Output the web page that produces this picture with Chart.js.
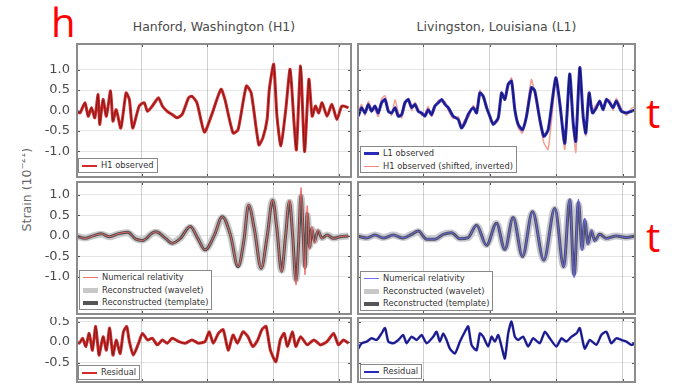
<!DOCTYPE html>
<html lang="en">
<head>
<meta charset="UTF-8">
<title>GW150914 strain</title>
<script src="https://cdn.jsdelivr.net/npm/chart.js"></script>
<style>
  body { margin: 0; background: #fff; width: 679px; height: 385px; position: relative; overflow: hidden; font-family: "DejaVu Sans", sans-serif; }
  canvas { position: absolute; }
  .title { position: absolute; top: 19px; font-size: 12.5px; color: #4a4a4a; text-align: center; }
  .mark { position: absolute; color: #f00; font-family: "Open Sans", sans-serif; font-size: 40px; line-height: 1; }
  .legend { position: absolute; background: #fff; border: 1px solid #888; font-size: 8.3px; color: #333; padding: 0 3px; }
  .legend div { height: 12.5px; line-height: 12.5px; white-space: nowrap; }
  .legend span { display: inline-block; width: 15px; vertical-align: middle; margin-right: 4px; }
  #ylab { position: absolute; left: 22px; top: 130px; width: 20px; height: 120px; overflow: hidden; }
  #ylab div { position: absolute; left: -51px; top: 52px; width: 110px; text-align: center; transform: rotate(-90deg); font-size: 12.5px; color: #666; white-space: nowrap; }
</style>
</head>
<body>
<div class="mark" style="left:51px; top:2px;">h</div>
<div class="mark" style="left:646px; top:93px;">t</div>
<div class="mark" style="left:646px; top:217px;">t</div>
<div class="title" style="left:76px; width:276px;">Hanford, Washington (H1)</div>
<div class="title" style="left:357px; width:279px;">Livingston, Louisiana (L1)</div>
<div id="ylab"><div>Strain (10<sup style="font-size:8px">&minus;21</sup>)</div></div>

<canvas id="cH1" width="352" height="135" style="left:0; top:43px;"></canvas>
<canvas id="cL1" width="279" height="135" style="left:357px; top:43px;"></canvas>
<canvas id="cH1rec" width="352" height="134" style="left:0; top:181px;"></canvas>
<canvas id="cL1rec" width="279" height="134" style="left:357px; top:181px;"></canvas>
<canvas id="cH1res" width="352" height="66" style="left:0; top:317px;"></canvas>
<canvas id="cL1res" width="279" height="66" style="left:357px; top:317px;"></canvas>

<div class="legend" style="left:78px; top:158px;">
  <div><span style="border-top:2px solid #d42a2a"></span>H1 observed</div>
</div>
<div class="legend" style="left:360px; top:146px;">
  <div><span style="border-top:3px solid #2a2ab8"></span>L1 observed</div>
  <div><span style="border-top:1px solid #f08a80"></span>H1 observed (shifted, inverted)</div>
</div>
<div class="legend" style="left:79px; top:270px;">
  <div><span style="border-top:1px solid #f07070"></span>Numerical relativity</div>
  <div><span style="border-top:5px solid #c8c8c8"></span>Reconstructed (wavelet)</div>
  <div><span style="border-top:4px solid #555"></span>Reconstructed (template)</div>
</div>
<div class="legend" style="left:360px; top:271px;">
  <div><span style="border-top:1px solid #7070f0"></span>Numerical relativity</div>
  <div><span style="border-top:5px solid #c8c8c8"></span>Reconstructed (wavelet)</div>
  <div><span style="border-top:4px solid #555"></span>Reconstructed (template)</div>
</div>
<div class="legend" style="left:78px; top:365px;">
  <div><span style="border-top:2px solid #d42a2a"></span>Residual</div>
</div>
<div class="legend" style="left:360px; top:364px;">
  <div><span style="border-top:2px solid #2a2ab8"></span>Residual</div>
</div>

<script>
// time axis (s) and tick positions
const xTicks = [0.30, 0.35, 0.40, 0.45];
const yTicksMain = [-1.0, -0.5, 0.0, 0.5, 1.0];
const yTicksRes = [-0.5, 0.0, 0.5];

// H1 observed (top left)
const tH1Obs = [0.2500, 0.2530, 0.2568, 0.2593, 0.2618, 0.2643, 0.2668, 0.2680, 0.2706, 0.2731,
  0.2763, 0.2781, 0.2806, 0.2841, 0.2881, 0.2906, 0.2931, 0.2981, 0.3019, 0.3044,
  0.3081, 0.3127, 0.3157, 0.3194, 0.3232, 0.3269, 0.3307, 0.3357, 0.3382, 0.3420,
  0.3477, 0.3533, 0.3603, 0.3633, 0.3695, 0.3733, 0.3796, 0.3833, 0.3891, 0.3922,
  0.3954, 0.3971, 0.4004, 0.4029, 0.4059, 0.4096, 0.4129, 0.4159, 0.4177, 0.4209,
  0.4239, 0.4272, 0.4297, 0.4322, 0.4347, 0.4372, 0.4410, 0.4447, 0.4485, 0.4523, 0.4573];
const h1Obs = [0.00, -0.06, 0.19, -0.14, 0.07, -0.18, 0.39, -0.34, 0.27, -0.14,
  0.48, -0.26, 0.02, -0.43, 0.43, 0.27, -0.43, 0.11, 0.19, -0.02,
  0.11, 0.31, 0.11, -0.02, -0.10, -0.18, -0.10, 0.31, 0.35, 0.19,
  -0.53, -0.10, 0.52, 0.27, -0.55, -0.47, 0.60, 0.43, -0.84, -0.67,
  -0.22, 0.52, 1.13, -0.14, -0.86, 0.02, 1.01, -0.30, -0.96, 1.09,
  -1.00, 0.76, -0.14, 0.11, -0.06, 0.19, -0.14, 0.15, -0.22, 0.11, 0.07];

// L1 observed and H1 shifted/inverted (top right)
const tL1Obs = [0.2510, 0.2535, 0.2560, 0.2585, 0.2610, 0.2635, 0.2660, 0.2685, 0.2711, 0.2736,
  0.2761, 0.2786, 0.2811, 0.2836, 0.2861, 0.2886, 0.2911, 0.2936, 0.2961, 0.2986,
  0.3011, 0.3036, 0.3061, 0.3086, 0.3112, 0.3137, 0.3162, 0.3187, 0.3224, 0.3262,
  0.3287, 0.3312, 0.3337, 0.3375, 0.3400, 0.3425, 0.3450, 0.3475, 0.3500, 0.3525,
  0.3563, 0.3588, 0.3613, 0.3638, 0.3663, 0.3688, 0.3713, 0.3746, 0.3776, 0.3813,
  0.3838, 0.3876, 0.3906, 0.3939, 0.3996, 0.4026, 0.4064, 0.4101, 0.4127, 0.4147,
  0.4177, 0.4202, 0.4222, 0.4247, 0.4272, 0.4302, 0.4327, 0.4352, 0.4377, 0.4402,
  0.4427, 0.4452, 0.4490, 0.4528, 0.4565, 0.4598];
const l1Obs = [-0.14, 0.07, -0.06, 0.15, -0.02, 0.11, -0.06, 0.19, 0.27, -0.02,
  -0.06, 0.07, -0.14, -0.10, 0.19, 0.27, 0.07, 0.15, -0.02, -0.06,
  -0.14, 0.02, -0.10, 0.11, 0.19, 0.27, 0.15, 0.07, -0.14, -0.22,
  -0.43, -0.30, -0.10, 0.07, -0.06, 0.43, 0.35, 0.07, -0.14, -0.34,
  -0.18, 0.43, 0.27, 0.64, 0.72, 0.02, -0.34, -0.47, -0.14, 0.56,
  0.48, -0.22, -0.63, -0.47, 0.80, 0.19, -0.80, 0.89, -0.30, -0.75,
  1.05, -0.14, -0.55, 0.43, -0.06, 0.07, 0.23, 0.02, 0.27, 0.19,
  0.07, 0.23, -0.02, -0.06, -0.02, 0.02];
const h1Shifted = [-0.05, 0.15, -0.12, 0.22, 0.05, 0.02, -0.15, 0.28, 0.36, 0.05,
  -0.12, 0.26, -0.05, -0.18, 0.12, 0.30, 0.00, 0.20, 0.05, -0.12,
  -0.08, 0.10, -0.15, 0.05, 0.25, 0.20, 0.22, 0.00, -0.20, -0.15,
  -0.38, -0.22, -0.18, 0.12, 0.02, 0.50, 0.28, 0.15, -0.20, -0.28,
  -0.25, 0.38, 0.32, 0.58, 0.80, 0.10, -0.42, -0.55, -0.05, 0.76,
  0.40, -0.30, -0.78, -0.95, 0.70, 0.28, -0.95, 0.80, -0.40, -1.02,
  0.95, -0.05, -0.62, 0.35, 0.02, 0.15, 0.18, 0.10, 0.20, 0.26,
  0.00, 0.30, 0.05, -0.12, 0.05, 0.10];

// reconstructed waveforms (middle left)
const tH1Rec = [0.2500, 0.2568, 0.2630, 0.2693, 0.2756, 0.2818, 0.2893, 0.2956, 0.3006, 0.3081,
  0.3107, 0.3182, 0.3232, 0.3294, 0.3370, 0.3427, 0.3482, 0.3553, 0.3613, 0.3675,
  0.3733, 0.3778, 0.3813, 0.3858, 0.3909, 0.3954, 0.3996, 0.4029, 0.4064, 0.4094,
  0.4124, 0.4149, 0.4174, 0.4194, 0.4212, 0.4229, 0.4242, 0.4259, 0.4277, 0.4294,
  0.4315, 0.4340, 0.4372, 0.4410, 0.4460, 0.4510, 0.4573];
const h1NR = [0.00, -0.06, 0.00, 0.05, -0.02, 0.05, 0.09, -0.08, -0.11, 0.07,
  0.10, -0.06, -0.18, -0.06, 0.23, -0.06, -0.34, 0.02, 0.47, 0.02,
  -0.75, -0.10, 0.76, 0.15, -0.79, -0.02, 0.88, 0.15, -0.87, -0.02,
  0.88, -0.02, -1.20, -0.18, 1.18, -0.02, -0.95, 0.74, -0.34, 0.23,
  -0.18, 0.15, -0.06, 0.02, -0.06, -0.02, 0.00];
const h1Wavelet = [0.00, -0.05, 0.00, 0.04, -0.02, 0.04, 0.08, -0.07, -0.10, 0.06,
  0.09, -0.05, -0.16, -0.05, 0.21, -0.05, -0.32, 0.02, 0.45, 0.02,
  -0.72, -0.10, 0.74, 0.14, -0.78, -0.02, 0.86, 0.14, -0.84, -0.02,
  0.82, -0.02, -1.05, -0.15, 0.95, -0.02, -0.70, 0.50, -0.25, 0.16,
  -0.12, 0.10, -0.04, 0.02, -0.05, -0.02, 0.00];
const h1Template = [0.00, -0.06, 0.00, 0.05, -0.02, 0.05, 0.09, -0.08, -0.11, 0.07,
  0.10, -0.06, -0.18, -0.06, 0.23, -0.06, -0.34, 0.02, 0.47, 0.02,
  -0.75, -0.10, 0.75, 0.15, -0.79, -0.02, 0.87, 0.15, -0.86, -0.02,
  0.84, -0.02, -1.10, -0.16, 1.00, -0.02, -0.78, 0.55, -0.28, 0.18,
  -0.14, 0.12, -0.05, 0.02, -0.06, -0.02, 0.00];

// reconstructed waveforms (middle right)
const tL1Rec = [0.2500, 0.2573, 0.2635, 0.2698, 0.2773, 0.2848, 0.2911, 0.2961, 0.3024, 0.3086,
  0.3149, 0.3212, 0.3275, 0.3337, 0.3400, 0.3475, 0.3550, 0.3613, 0.3675, 0.3746,
  0.3821, 0.3906, 0.3989, 0.4056, 0.4101, 0.4134, 0.4167, 0.4194, 0.4214, 0.4239,
  0.4264, 0.4289, 0.4327, 0.4377, 0.4452, 0.4528, 0.4598];
const l1NR = [0.00, -0.05, 0.02, -0.05, 0.02, -0.05, 0.04, 0.12, -0.08, -0.08,
  0.04, 0.08, -0.07, -0.04, 0.26, -0.23, 0.31, -0.33, 0.45, -0.50,
  0.59, -0.59, 0.67, -0.75, 0.90, -1.02, 0.90, -0.36, 0.44, -0.22,
  0.14, -0.13, 0.04, -0.07, 0.00, -0.04, 0.00];
const l1Wavelet = [0.00, -0.04, 0.02, -0.04, 0.02, -0.04, 0.04, 0.10, -0.07, -0.07,
  0.04, 0.07, -0.06, -0.04, 0.24, -0.21, 0.30, -0.31, 0.43, -0.48,
  0.57, -0.58, 0.65, -0.73, 0.84, -0.88, 0.76, -0.28, 0.32, -0.16,
  0.10, -0.09, 0.03, -0.05, 0.00, -0.03, 0.00];
const l1Template = [0.00, -0.05, 0.02, -0.05, 0.02, -0.05, 0.04, 0.12, -0.08, -0.08,
  0.04, 0.08, -0.07, -0.04, 0.26, -0.23, 0.31, -0.33, 0.45, -0.50,
  0.59, -0.59, 0.67, -0.75, 0.88, -0.96, 0.82, -0.32, 0.38, -0.19,
  0.12, -0.11, 0.04, -0.06, 0.00, -0.04, 0.00];

// residuals (bottom)
const tH1Res = [0.2500, 0.2525, 0.2550, 0.2575, 0.2600, 0.2625, 0.2650, 0.2675, 0.2706, 0.2731,
  0.2756, 0.2781, 0.2806, 0.2836, 0.2861, 0.2886, 0.2906, 0.2936, 0.2976, 0.3006,
  0.3044, 0.3081, 0.3119, 0.3157, 0.3194, 0.3232, 0.3282, 0.3332, 0.3382, 0.3432,
  0.3482, 0.3513, 0.3545, 0.3583, 0.3620, 0.3658, 0.3695, 0.3728, 0.3771, 0.3808,
  0.3846, 0.3883, 0.3914, 0.3946, 0.3979, 0.4021, 0.4054, 0.4084, 0.4109, 0.4147,
  0.4172, 0.4209, 0.4259, 0.4310, 0.4360, 0.4410, 0.4460, 0.4497, 0.4535, 0.4573];
const h1Res = [0.01, -0.03, 0.09, -0.11, 0.21, -0.20, 0.38, -0.32, 0.13, -0.20,
  0.34, -0.32, 0.05, -0.28, 0.25, 0.38, 0.01, -0.32, -0.03, 0.21,
  0.05, 0.09, -0.07, 0.05, -0.03, 0.09, 0.01, -0.03, 0.05, -0.03,
  0.01, 0.25, -0.03, 0.21, 0.30, -0.20, 0.17, -0.03, 0.25, 0.13,
  -0.11, 0.05, 0.30, 0.38, -0.20, -0.48, 0.05, 0.21, -0.11, 0.25,
  -0.11, 0.13, -0.07, 0.05, -0.07, 0.01, 0.21, -0.07, 0.05, -0.03];
const tL1Res = [0.2510, 0.2535, 0.2573, 0.2610, 0.2648, 0.2685, 0.2711, 0.2736, 0.2773, 0.2811,
  0.2848, 0.2873, 0.2911, 0.2949, 0.2986, 0.3024, 0.3074, 0.3099, 0.3124, 0.3149,
  0.3174, 0.3199, 0.3237, 0.3275, 0.3312, 0.3337, 0.3362, 0.3400, 0.3425, 0.3450,
  0.3487, 0.3513, 0.3538, 0.3563, 0.3588, 0.3613, 0.3638, 0.3663, 0.3688, 0.3713,
  0.3751, 0.3788, 0.3826, 0.3876, 0.3914, 0.3951, 0.4001, 0.4039, 0.4076, 0.4114,
  0.4152, 0.4177, 0.4214, 0.4252, 0.4302, 0.4339, 0.4377, 0.4414, 0.4452, 0.4490,
  0.4528, 0.4565, 0.4598];
const l1Res = [-0.16, -0.03, 0.01, 0.09, 0.05, 0.21, 0.34, 0.01, -0.03, 0.05,
  0.17, -0.03, 0.13, 0.05, 0.17, -0.03, 0.13, 0.25, 0.01, 0.21,
  0.05, -0.16, -0.28, 0.01, 0.25, 0.38, -0.07, -0.20, 0.21, 0.13,
  -0.11, 0.13, 0.01, 0.17, -0.11, -0.40, 0.21, 0.50, 0.13, 0.05,
  0.13, -0.11, 0.09, -0.03, 0.25, 0.09, -0.11, 0.09, 0.01, 0.13,
  0.21, 0.34, -0.16, 0.05, -0.07, 0.17, 0.25, -0.03, 0.09, 0.05,
  0.01, -0.07, -0.03];

function pts(ts, vs) {
  return ts.map((t, i) => ({ x: t, y: vs[i] }));
}

// box around the plot area with inward ticks like matplotlib
const frame = {
  id: 'frame',
  afterDraw(chart) {
    const { ctx, chartArea: a, scales: { x, y } } = chart;
    ctx.save();
    ctx.strokeStyle = '#555';
    ctx.lineWidth = 1;
    ctx.beginPath();
    x.ticks.forEach(t => {
      const px = Math.round(x.getPixelForValue(t.value)) + 0.5;
      ctx.moveTo(px, a.top); ctx.lineTo(px, a.top + 4);
      ctx.moveTo(px, a.bottom); ctx.lineTo(px, a.bottom - 4);
    });
    y.ticks.forEach(t => {
      const py = Math.round(y.getPixelForValue(t.value)) + 0.5;
      ctx.moveTo(a.left, py); ctx.lineTo(a.left + 4, py);
      ctx.moveTo(a.right, py); ctx.lineTo(a.right - 4, py);
    });
    ctx.stroke();
    ctx.strokeStyle = '#8c8c8c';
    ctx.lineWidth = 2;
    ctx.strokeRect(a.left + 1, a.top + 1, a.width - 2, a.height - 2);
    ctx.restore();
  }
};

function panel(id, yMin, yMax, yTicks, showY, datasets) {
  return new Chart(document.getElementById(id), {
    type: 'line',
    data: { datasets },
    options: {
      responsive: false,
      animation: false,
      layout: { padding: 0 },
      plugins: { legend: { display: false }, tooltip: { enabled: false } },
      elements: { point: { radius: 0 } },
      scales: {
        x: {
          type: 'linear', min: 0.25, max: 0.46,
          afterBuildTicks: s => { s.ticks = xTicks.map(v => ({ value: v })); },
          ticks: { display: false },
          grid: { color: 'rgba(0,0,0,0.18)', drawTicks: false },
          border: { display: false },
          afterFit: s => { s.height = 0; }
        },
        y: {
          min: yMin, max: yMax,
          afterBuildTicks: s => { s.ticks = yTicks.map(v => ({ value: v })); },
          ticks: {
            display: showY, padding: 6, color: '#4a4a4a',
            font: { family: 'DejaVu Sans', size: 13 },
            callback: v => v.toFixed(1)
          },
          grid: { color: 'rgba(0,0,0,0.10)', drawTicks: false },
          border: { display: false },
          afterFit: s => { s.width = showY ? 76 : 0; s.paddingTop = 0; s.paddingBottom = 0; }
        }
      }
    },
    plugins: [frame]
  });
}

const red = '#d42a2a', darkRed = '#7a1a1a', blue = '#2a2ab8', navy = '#14145a';

panel('cH1', -1.65, 1.65, yTicksMain, true, [
  { data: pts(tH1Obs, h1Obs), borderColor: darkRed, borderWidth: 1, tension: 0.2 },
  { data: pts(tH1Obs, h1Obs), borderColor: red, borderWidth: 3, tension: 0.2 }
]);

panel('cL1', -1.65, 1.65, yTicksMain, false, [
  { data: pts(tL1Obs, l1Obs), borderColor: navy, borderWidth: 1, tension: 0.2 },
  { data: pts(tL1Obs, l1Obs), borderColor: blue, borderWidth: 3, tension: 0.2 },
  { data: pts(tL1Obs, h1Shifted), borderColor: '#f2a096', borderWidth: 1.5, tension: 0.2 }
]);

panel('cH1rec', -1.93, 1.34, yTicksMain, true, [
  { data: pts(tH1Rec, h1NR), borderColor: '#f06a6a', borderWidth: 1, cubicInterpolationMode: 'monotone' },
  { data: pts(tH1Rec, h1Template), borderColor: '#4d4d4d', borderWidth: 3, cubicInterpolationMode: 'monotone' },
  { data: pts(tH1Rec, h1Wavelet), borderColor: '#c8c8c8', borderWidth: 7, cubicInterpolationMode: 'monotone' }
]);

panel('cL1rec', -1.93, 1.34, yTicksMain, false, [
  { data: pts(tL1Rec, l1NR), borderColor: '#6a6af0', borderWidth: 1, cubicInterpolationMode: 'monotone' },
  { data: pts(tL1Rec, l1Template), borderColor: '#4d4d5a', borderWidth: 3, cubicInterpolationMode: 'monotone' },
  { data: pts(tL1Rec, l1Wavelet), borderColor: '#c8c8d2', borderWidth: 7, cubicInterpolationMode: 'monotone' }
]);

panel('cH1res', -1.0, 0.61, yTicksRes, true, [
  { data: pts(tH1Res, h1Res), borderColor: darkRed, borderWidth: 1, tension: 0.2 },
  { data: pts(tH1Res, h1Res), borderColor: red, borderWidth: 3, tension: 0.2 }
]);

panel('cL1res', -1.0, 0.61, yTicksRes, false, [
  { data: pts(tL1Res, l1Res), borderColor: navy, borderWidth: 1, tension: 0.2 },
  { data: pts(tL1Res, l1Res), borderColor: blue, borderWidth: 2.5, tension: 0.2 }
]);
</script>
</body>
</html>
